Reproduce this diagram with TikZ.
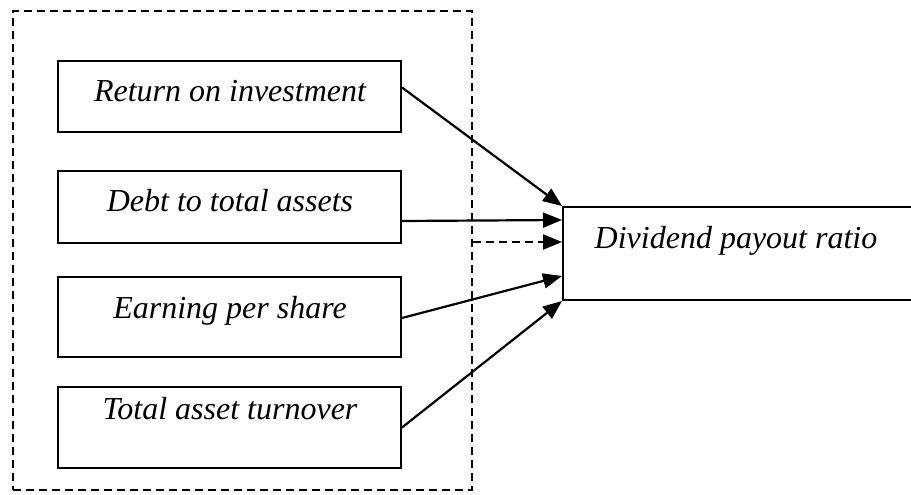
\documentclass[tikz,border=0pt]{standalone}
\usepackage{fontspec}
\setmainfont{Liberation Serif}
\usetikzlibrary{arrows.meta,calc}
\begin{document}
\begin{tikzpicture}[x=1pt,y=-1pt,
  factor/.style={draw,line width=2pt,minimum width=343pt,inner sep=0pt},
  lbl/.style={anchor=base,inner sep=0pt,font=\fontsize{32}{38}\selectfont\itshape},
  link/.style={line width=2.2pt,-{Triangle[length=19pt,width=15pt]}},
  frame/.style={draw,line width=1.6pt,dash pattern=on 8pt off 5pt,inner sep=0pt}]
\useasboundingbox (0,0) rectangle (911,495);
\clip (0,0) rectangle (911,495);
% dashed group frame
\node[frame,minimum width=459pt,minimum height=479pt] (grp) at (242.5,250.5) {};
% factor boxes
\node[factor,minimum height=71pt] (r1) at (229.5,96.5) {};
\node[factor,minimum height=72pt] (r2) at (229.5,207) {};
\node[factor,minimum height=80pt] (r3) at (229.5,317) {};
\node[factor,minimum height=81pt] (r4) at (229.5,427.5) {};
\node[lbl] (t1) at (230,102) {Return on investment};
\node[lbl] (t2) at (230,211.5) {Debt to total assets};
\node[lbl] (t3) at (230,318) {Earning per share};
\node[lbl] (t4) at (230,419) {Total asset turnover};
% outcome box, running off the right edge
\node[draw,line width=2pt,minimum width=380pt,minimum height=93pt,inner sep=0pt] (dpr) at (753,253.5) {};
\node[lbl] (t5) at (736,248.5) {Dividend payout ratio};
% connectors
\draw[link] ([yshift=9pt]r1.east) -- (dpr.north west);
\draw[link] ([yshift=-14pt]r2.east) -- ([yshift=-14pt]dpr.north west);
\coordinate (dtip) at ([yshift=-36pt]dpr.north west);
\draw[link,dash pattern=on 8pt off 5pt] (grp.east |- dtip) -- (dtip);
\draw[link] ([yshift=-1pt]r3.east) -- ([yshift=-70pt]dpr.north west);
\draw[link] (r4.east) -- (dpr.south west);
\end{tikzpicture}
\end{document}
